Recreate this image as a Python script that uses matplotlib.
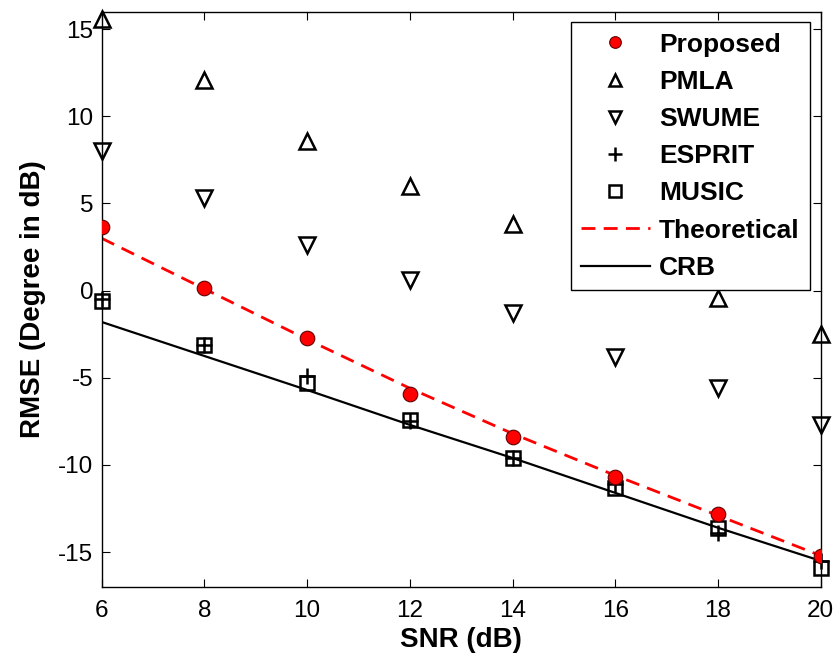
import numpy as np
import matplotlib.pyplot as plt

plt.rcParams['font.family'] = ['Liberation Sans', 'DejaVu Sans']
plt.rcParams['axes.unicode_minus'] = False

snr = [6, 8, 10, 12, 14, 16, 18, 20]
proposed = [3.66, 0.17, -2.7, -5.95, -8.4, -10.7, -12.8, -15.2]
pmla = [15.6, 12.1, 8.6, 6.0, 3.8, 1.7, -0.4, -2.5]
swume = [8.0, 5.3, 2.6, 0.6, -1.3, -3.8, -5.6, -7.7]
esprit = [-0.5, -3.1, -4.9, -7.5, -9.6, -11.1, -13.9, -15.5]
music = [-0.6, -3.1, -5.3, -7.4, -9.6, -11.3, -13.6, -15.9]
theoretical = [3.0, 0.1, -2.8, -5.6, -8.2, -10.6, -12.9, -15.2]
crb = [-1.8, -3.75, -5.7, -7.7, -9.6, -11.6, -13.6, -15.5]

fig = plt.figure(figsize=(8.4, 6.66), dpi=100)
ax = fig.add_axes([0.121, 0.1186, 0.856, 0.864])

ax.plot(snr, proposed, 'o', color='red', mec='#600000', mew=0.8, ms=10.5, label='Proposed', zorder=4)
ax.plot(snr, pmla, '^', color='black', mfc='none', mew=1.8, ms=11, label='PMLA', clip_on=False)
ax.plot(snr, swume, 'v', color='black', mfc='none', mew=1.8, ms=11, label='SWUME', clip_on=False)
ax.plot(snr, esprit, '+', color='black', mew=1.8, ms=12, label='ESPRIT', clip_on=False)
ax.plot(snr, music, 's', color='black', mfc='none', mew=1.8, ms=10, label='MUSIC', clip_on=False)
ax.plot(snr, theoretical, '--', color='red', lw=2, dashes=(5, 3), label='Theoretical')
ax.plot(snr, crb, '-', color='black', lw=1.6, label='CRB')

ax.set_xlim(6, 20)
ax.set_ylim(-17, 16)
ax.set_xticks([6, 8, 10, 12, 14, 16, 18, 20])
ax.set_yticks([-15, -10, -5, 0, 5, 10, 15])
ax.tick_params(direction='in', top=True, right=True, labelsize=17.5, length=6, pad=6)
ax.tick_params(axis='x', pad=9)
for s in ax.spines.values():
    s.set_linewidth(1.0)

ax.set_xlabel('SNR (dB)', fontsize=20, fontweight='bold', labelpad=4)
ax.set_ylabel('RMSE (Degree in dB)', fontsize=20, fontweight='bold', labelpad=9)

leg = ax.legend(loc='upper right', prop={'weight': 'bold', 'size': 19},
                fancybox=False, edgecolor='black', framealpha=1, borderaxespad=0.4,
                handlelength=2.6, labelspacing=0.5, handletextpad=0.35,
                borderpad=0.4, markerscale=0.8)
leg.get_frame().set_linewidth(1.0)
leg.set_zorder(10)

plt.savefig('out.png')
